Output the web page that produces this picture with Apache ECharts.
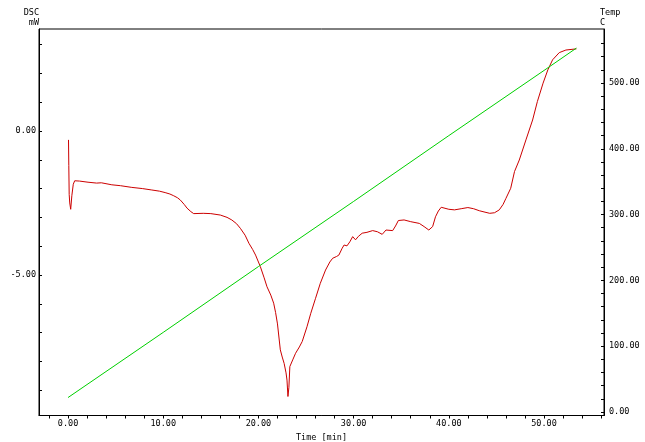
<!DOCTYPE html>
<html>
<head>
<meta charset="utf-8">
<script src="https://cdn.jsdelivr.net/npm/echarts@6/dist/echarts.min.js"></script>
<style>
	html, body { margin: 0; padding: 0; background: #fff; }
	#chart { width: 645px; height: 442px; }
</style>
</head>
<body>
<div id="chart"></div>
<script>
	// DSC signal (mW) against time (min)
	const dscTime = [0.05, 0.08, 0.12, 0.18, 0.28, 0.4, 0.55, 0.7, 1.2, 2.1, 3.0, 3.5, 4.6, 5.5, 6.7, 7.8, 8.8, 9.6, 10.2, 10.7,
		11.1, 11.5, 11.8, 12.2, 12.5, 12.9, 13.2, 14.2, 15.0, 16.0, 16.7, 17.2, 17.7, 18.1, 18.6, 19.0, 19.4, 19.7, 20.2, 20.6,
		20.9, 21.3, 21.6, 21.8, 22.0, 22.3, 22.5, 22.7, 22.9, 23.0, 23.1, 23.2, 23.3, 23.6, 23.9, 24.3, 24.6, 25.1, 25.5, 26.0,
		26.5, 27.05, 27.5, 27.8, 28.2, 28.45, 28.8, 29.0, 29.3, 29.6, 29.9, 30.2, 30.5, 30.9, 31.4, 32.0, 32.5, 33.0, 33.4, 34.1,
		34.4, 34.7, 35.3, 36.0, 36.9, 37.4, 37.9, 38.3, 38.6, 38.9, 39.2, 40.0, 40.6, 41.3, 42.0, 42.6, 43.2, 43.8, 44.3, 44.8,
		45.3, 45.7, 46.0, 46.5, 46.9, 47.4, 48.1, 48.8, 49.3, 49.9, 50.4, 50.9, 51.6, 52.3, 53.4];
	const dscValue = [-0.31, -1.2, -2.2, -2.5, -2.72, -2.25, -1.85, -1.73, -1.74, -1.78, -1.81, -1.80, -1.87, -1.90, -1.96, -2.0, -2.05, -2.09, -2.14, -2.19,
		-2.25, -2.32, -2.40, -2.55, -2.68, -2.80, -2.87, -2.86, -2.87, -2.92, -3.0, -3.09, -3.22, -3.38, -3.62, -3.90, -4.12, -4.31, -4.71, -5.1,
		-5.41, -5.7, -5.98, -6.3, -6.7, -7.6, -7.85, -8.07, -8.4, -8.65, -9.22, -8.9, -8.18, -7.95, -7.72, -7.5, -7.31, -6.8, -6.33, -5.81,
		-5.29, -4.83, -4.55, -4.42, -4.36, -4.31, -4.07, -3.96, -3.99, -3.85, -3.67, -3.78, -3.66, -3.55, -3.52, -3.46, -3.50, -3.59, -3.44, -3.46,
		-3.30, -3.11, -3.09, -3.15, -3.21, -3.32, -3.44, -3.32, -2.98, -2.78, -2.65, -2.72, -2.74, -2.70, -2.66, -2.70, -2.77, -2.82, -2.86, -2.84,
		-2.74, -2.55, -2.34, -1.99, -1.41, -1.01, -0.31, 0.38, 1.02, 1.66, 2.12, 2.47, 2.72, 2.81, 2.85];

	// temperature (C) against time (min)
	const tempTime = [0, 10, 20, 30, 40, 50, 53.4];
	const tempValue = [22, 121, 221, 320, 420, 519, 553];

	// tick marks and labels
	const timeTicks = [-2, 0, 2, 4, 6, 8, 10, 12, 14, 16, 18, 20, 22, 24, 26, 28, 30, 32, 34, 36, 38, 40, 42, 44, 46, 48, 50, 52, 54, 56];
	const timeLabels = [0, 10, 20, 30, 40, 50];
	const dscTicks = [-9, -8, -7, -6, -5, -4, -3, -2, -1, 0, 1, 2, 3];
	const dscLabels = [-5, 0];
	const tempTicks = [0, 20, 40, 60, 80, 100, 120, 140, 160, 180, 200, 220, 240, 260, 280, 300, 320, 340, 360, 380, 400, 420, 440, 460, 480, 500, 520, 540, 560];
	const tempLabels = [0, 100, 200, 300, 400, 500];

	const font = 'DejaVu Sans Mono';
	const labelStyle = { color: '#000', fontFamily: font, fontSize: 8.5 };
	const fmt = v => v.toFixed(2);

	const chart = echarts.init(document.getElementById('chart'));
	chart.setOption({
		animation: false,
		backgroundColor: '#fff',
		grid: {
			left: 39, top: 29, right: 41, bottom: 26.5,
			containLabel: false,
			outerBoundsMode: 'none',
			show: true, borderColor: '#000', borderWidth: 1
		},
		xAxis: {
			type: 'value',
			min: -3.05,
			max: 56.3,
			name: 'Time [min]',
			nameLocation: 'middle',
			nameGap: 16,
			nameTextStyle: labelStyle,
			axisLine: { onZero: false, lineStyle: { color: '#000', width: 1 } },
			axisTick: { customValues: timeTicks, length: 3, lineStyle: { color: '#000' } },
			axisLabel: Object.assign({ customValues: timeLabels, formatter: fmt, margin: 4 }, labelStyle),
			splitLine: { show: false }
		},
		yAxis: [
			{
				type: 'value',
				min: -9.88,
				max: 3.54,
				name: 'DSC\nmW',
				nameLocation: 'end',
				nameGap: 1,
				nameTextStyle: Object.assign({ align: 'right', lineHeight: 10 }, labelStyle),
				axisLine: { onZero: false, lineStyle: { color: '#000', width: 1 } },
				axisTick: { customValues: dscTicks, inside: true, length: 3, lineStyle: { color: '#000' } },
				axisLabel: Object.assign({ customValues: dscLabels, formatter: fmt, margin: 3 }, labelStyle),
				splitLine: { show: false }
			},
			{
				type: 'value',
				min: -5.3,
				max: 582,
				position: 'right',
				name: 'Temp\nC',
				nameLocation: 'end',
				nameGap: 1,
				nameTextStyle: Object.assign({ align: 'left', lineHeight: 10, padding: [0, 0, 0, -4] }, labelStyle),
				axisLine: { onZero: false, lineStyle: { color: '#000', width: 1 } },
				axisTick: { customValues: tempTicks, inside: true, length: 3, lineStyle: { color: '#000' } },
				axisLabel: Object.assign({ customValues: tempLabels, formatter: fmt, margin: 5 }, labelStyle),
				splitLine: { show: false }
			}
		],
		series: [
			{
				name: 'DSC',
				type: 'line',
				yAxisIndex: 0,
				showSymbol: false,
				lineStyle: { color: '#cc0000', width: 1 },
				data: dscTime.map((t, i) => [t, dscValue[i]])
			},
			{
				name: 'Temp',
				type: 'line',
				yAxisIndex: 1,
				showSymbol: false,
				lineStyle: { color: '#00d000', width: 1 },
				data: tempTime.map((t, i) => [t, tempValue[i]])
			}
		]
	});
</script>
</body>
</html>
